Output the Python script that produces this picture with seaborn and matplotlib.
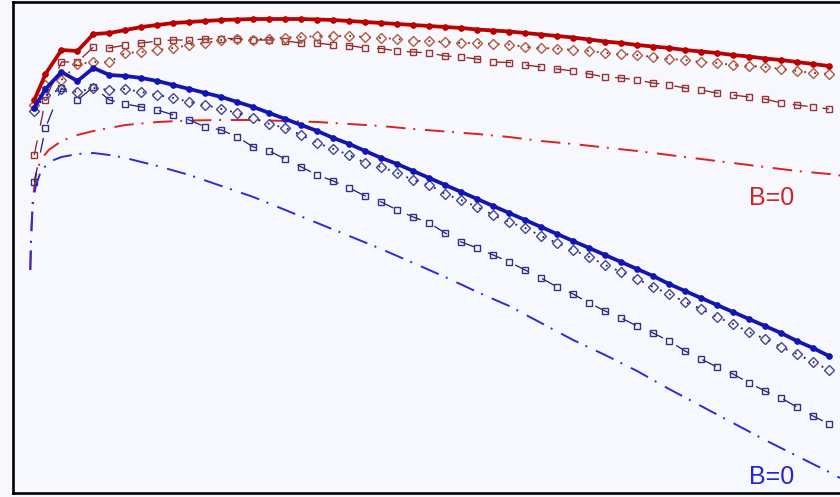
import matplotlib
matplotlib.use("Agg")
import matplotlib.pyplot as plt
import seaborn as sns

# abscissa of the marked series (first sample sits just right of the origin)
x_pts = [0.3] + list(range(1, 51))

# red family
red_full = [393, 419, 443, 442, 459, 460, 463, 466, 468, 470, 471, 472, 473, 473.5, 474,
            474, 474, 474, 473.5, 473, 472, 471, 470, 469, 468, 467, 466, 465, 463.5, 462.5,
            461.5, 460, 458.5, 457, 455.5, 453.5, 451.5, 450, 448, 446.5, 445, 443, 441.5,
            440, 438, 436.5, 434.5, 433, 431, 429, 427]
red_diam = [388, 408, 413, 429, 431, 431, 440, 441, 443, 445, 448, 450, 453, 454, 453.5,
            454.5, 455.5, 456, 457, 457, 457, 456, 455, 454, 452, 452, 451, 450, 450, 449,
            448.5, 446, 445, 444.5, 443, 442, 440, 439, 438, 436, 434, 433, 431, 430, 428,
            427, 426, 424, 422, 420, 419]
red_sq = [338, 393, 431, 431, 446, 445, 448, 450, 452, 453, 453, 454, 454.5, 454.5, 453,
          453, 452, 450, 450, 448, 447.5, 445, 444.5, 442, 441, 440, 437, 436, 434, 431,
          430.5, 428, 426, 424, 422, 419, 416, 415, 413, 410, 408, 405, 403, 400, 398,
          396, 394, 390, 388, 386, 384]

# blue family
blue_full = [385, 404, 421, 412, 425, 418, 417, 415, 412, 408, 404, 400, 396, 391, 386,
             380, 374, 368, 362, 355, 349, 342, 335, 329, 322, 315, 308, 301, 294, 287,
             280, 273, 266, 259, 252, 245, 238, 231, 224, 217, 209, 202, 195, 188, 181,
             174, 167, 160, 152, 145, 137]
blue_diam = [382, 398, 404, 401, 405, 403, 404, 401, 398, 395, 391, 388, 384, 380, 375,
             369, 365, 358, 350, 344, 338, 330, 326, 320, 313, 308, 299, 293, 286, 278,
             271, 265, 257, 250, 243, 236, 228, 221, 214, 206, 199, 191, 184, 176, 169,
             161, 154, 146, 139, 131, 123]
blue_sq = [311, 365, 405, 393, 406, 393, 389, 386, 383, 378, 373, 366, 363, 356, 346,
           342, 334, 326, 318, 312, 305, 297, 291, 283, 276, 270, 260, 251, 245, 238,
           231, 223, 215, 206, 199, 190, 182, 175, 167, 160, 152, 142, 134, 126, 119,
           110, 102, 95, 86, 77, 69]

# B=0 reference curves (smooth, sampled more densely near the origin)
x_b0 = [0.05, 0.1, 0.2, 0.4, 0.7, 1.2, 2, 3, 4, 5, 6, 8, 10, 12, 14, 16, 18, 20, 22, 24,
        26, 28, 30, 32, 34, 36, 38, 40, 42, 44, 46, 48, 50, 50.7]
red_b0 = [223, 258, 293, 318, 333, 343, 352, 358, 362, 365, 368, 371, 372.5, 373, 373,
          372, 371, 369, 367, 364, 361.5, 359, 356, 352, 349, 345.5, 342, 338, 334, 330,
          326, 322, 319, 317.5]
blue_b0 = [223, 253, 288, 308, 321, 331, 336, 339, 340, 338, 335, 327, 318, 307, 296,
           283, 270, 257, 244, 230, 216, 201, 187, 170, 153, 138, 122, 104, 87, 70, 53,
           37, 21, 15]

labels = ["B=0", "B=0"]

sns.set_theme(style="white")
plt.rcParams["font.family"] = ["Liberation Sans", "DejaVu Sans"]

bg = "#f7f8fd"
fig = plt.figure(figsize=(8.4, 4.97), dpi=100, facecolor=bg)
ax = fig.add_axes([13.5 / 840, 4 / 497, 1 - 13.5 / 840, 491 / 497])
ax.set_facecolor(bg)

common = dict(ax=ax, estimator=None, sort=False, legend=False)

# dash-dot B=0 curves
dashdot = (0, (10, 4, 1, 5))
sns.lineplot(x=x_b0, y=red_b0, color="#dd2020", linewidth=1.4, linestyle=dashdot, **common)
sns.lineplot(x=x_b0, y=blue_b0, color="#2a2ad8", linewidth=1.4, linestyle=dashdot, **common)

# thin square series
sq_style = (0, (12, 12))
sns.lineplot(x=x_pts, y=red_sq, color="#8a1a1a", linewidth=0.9, linestyle=sq_style,
             marker="s", markersize=5, markerfacecolor="none",
             markeredgecolor="#a03030", markeredgewidth=1.0, **common)
sns.lineplot(x=x_pts, y=blue_sq, color="#1c1c78", linewidth=0.9, linestyle=sq_style,
             marker="s", markersize=5, markerfacecolor="none",
             markeredgecolor="#30308c", markeredgewidth=1.0, **common)

# dotted diamond series
dot_style = (0, (1, 4.5))
sns.lineplot(x=x_pts, y=red_diam, color="#8a2020", linewidth=1.3, linestyle=dot_style,
             marker="D", markersize=5.6, markerfacecolor="none",
             markeredgecolor="#b05a40", markeredgewidth=1.0, **common)
sns.lineplot(x=x_pts, y=blue_diam, color="#1c1c70", linewidth=1.3, linestyle=dot_style,
             marker="D", markersize=5.6, markerfacecolor="none",
             markeredgecolor="#45458e", markeredgewidth=1.0, **common)

# thick full series with small filled dots
sns.lineplot(x=x_pts, y=red_full, color="#bb0000", linewidth=2.7,
             marker="o", markersize=4, markerfacecolor="#bb0000",
             markeredgecolor="#bb0000", **common)
sns.lineplot(x=x_pts, y=blue_full, color="#1414b0", linewidth=2.7,
             marker="o", markersize=4, markerfacecolor="#1414b0",
             markeredgecolor="#1414b0", **common)

ax.text(46.4, 295, labels[0], color="#d02424", fontsize=18, ha="center", va="center")
ax.text(46.4, 16, labels[1], color="#2424d0", fontsize=18, ha="center", va="center")

ax.set_xlim(-1.0, 50.69)
ax.set_ylim(0, 491)
ax.set_xticks([])
ax.set_yticks([])
ax.set_xlabel("")
ax.set_ylabel("")
for side in ("left", "top", "bottom"):
    ax.spines[side].set_color("black")
    ax.spines[side].set_linewidth(1.9)
    ax.spines[side].set_visible(True)
ax.spines["right"].set_visible(False)

fig.savefig("out.png", dpi=100, facecolor=bg)
